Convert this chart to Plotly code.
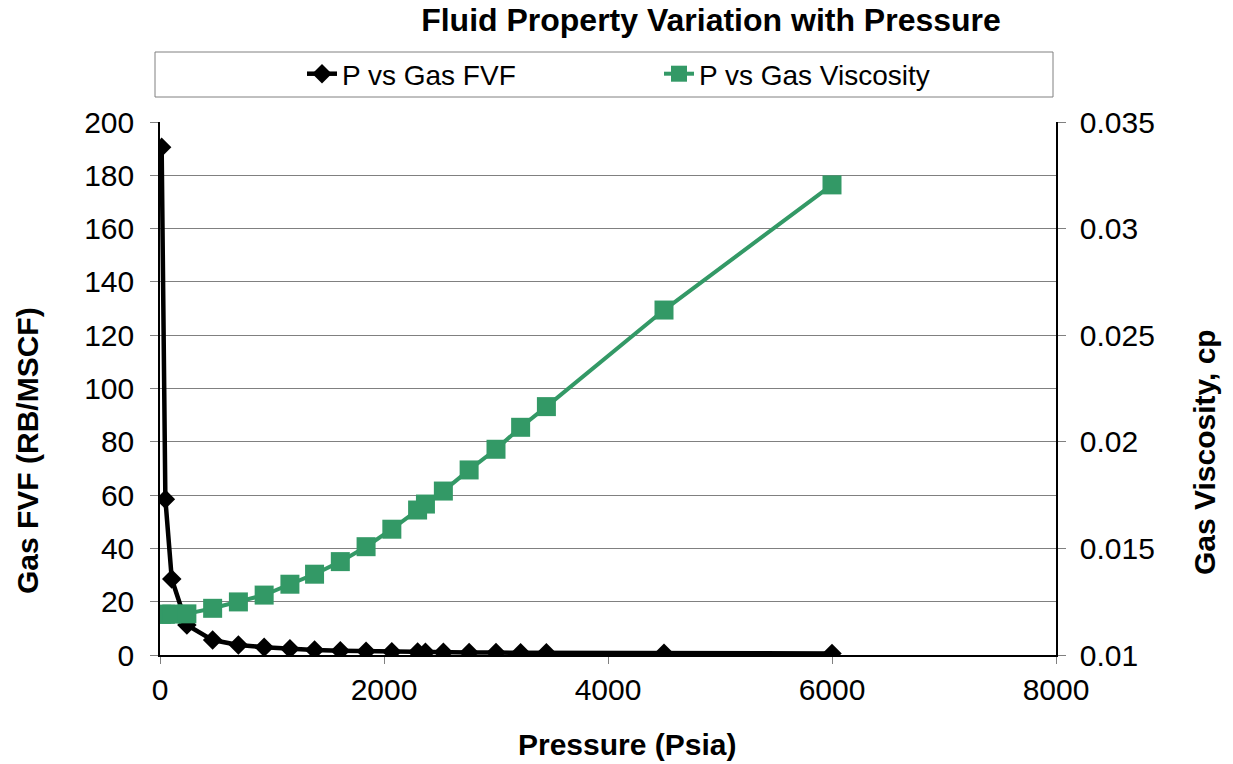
import plotly.graph_objects as go

# FVF series
fvf_pressure = [14.7, 48, 105, 240, 470, 700, 930, 1160, 1380, 1610, 1840, 2070, 2300, 2370, 2530, 2760, 3000, 3220, 3450, 4500, 6000]
gas_fvf = [190.5, 58.4, 28.5, 11.3, 5.6, 3.75, 2.9, 2.3, 1.9, 1.6, 1.4, 1.25, 1.1, 1.07, 1.0, 0.95, 0.9, 0.85, 0.8, 0.7, 0.6]

# Viscosity series
visc_pressure = fvf_pressure
gas_visc = [0.01191, 0.01191, 0.01192, 0.01193, 0.01219, 0.01249, 0.01281, 0.01332, 0.01379, 0.01438,
            0.01508, 0.01590, 0.01680, 0.01708, 0.01769, 0.01868, 0.01965, 0.02068, 0.02165, 0.02618, 0.03205]

title_text = "Fluid Property Variation with Pressure"
x_title = "Pressure (Psia)"
y1_title = "Gas FVF (RB/MSCF)"
y2_title = "Gas Viscosity, cp"

FONT = "Liberation Sans, Arial, sans-serif"
GREEN = "#339966"
GRID = "#808080"

fig = go.Figure()
fig.add_trace(go.Scatter(
    x=fvf_pressure, y=gas_fvf, name="P vs Gas FVF", mode="lines+markers",
    line=dict(color="black", width=4.5),
    marker=dict(symbol="diamond", size=15, color="black"),
    yaxis="y",
))
fig.add_trace(go.Scatter(
    x=visc_pressure, y=gas_visc, name="P vs Gas Viscosity", mode="lines+markers",
    line=dict(color=GREEN, width=4),
    marker=dict(symbol="square", size=19, color=GREEN),
    yaxis="y2",
))

L, R, T, B = 160, 177, 122, 109
W, H = 1233, 764
pw = W - L - R
ph = H - T - B


def px_x(x):
    return (x - L) / pw


def px_y(y):
    return (H - B - y) / ph


title_font = dict(family=FONT, size=30, color="black")

fig.update_layout(
    width=W, height=H,
    margin=dict(l=L, r=R, t=T, b=B),
    paper_bgcolor="white", plot_bgcolor="white",
    font=dict(family=FONT, size=30, color="black"),
    title=dict(text="<b>" + title_text + "</b>", x=711 / W, xanchor="center",
               yref="container", y=1 - 20 / H, yanchor="middle",
               font=dict(family=FONT, size=32, color="black")),
    showlegend=True,
    legend=dict(orientation="h", x=px_x(302), xanchor="left",
                yref="container", y=1 - 74 / H, yanchor="middle",
                bgcolor="rgba(0,0,0,0)", borderwidth=0,
                font=dict(family=FONT, size=28, color="black"),
                entrywidth=312, entrywidthmode="pixels", itemsizing="trace"),
    xaxis=dict(range=[0, 8000], dtick=2000, tick0=0, showgrid=False,
               showline=True, linecolor="black", linewidth=1.5,
               ticks="outside", ticklen=7, tickcolor=GRID,
               zeroline=False, automargin=False, ticklabelstandoff=0),
    yaxis=dict(range=[0, 200], dtick=20, tick0=0, showgrid=True, gridcolor=GRID, gridwidth=1,
               showline=True, linecolor="black", linewidth=1.5,
               ticks="outside", ticklen=8, tickcolor=GRID, zeroline=False, automargin=False,
               ticklabelstandoff=10),
    yaxis2=dict(range=[0.01, 0.035], dtick=0.005, tick0=0.01, overlaying="y", side="right",
                showgrid=False, showline=True, linecolor="black", linewidth=1.5,
                ticks="outside", ticklen=8, tickcolor=GRID, zeroline=False, automargin=False,
                ticklabelstandoff=8),
    shapes=[dict(type="rect", xref="paper", yref="paper",
                 x0=px_x(155), x1=px_x(1053),
                 y0=px_y(97), y1=px_y(52),
                 line=dict(color=GRID, width=1), fillcolor="rgba(0,0,0,0)", layer="below")],
    annotations=[
        dict(text="<b>" + x_title + "</b>", xref="paper", yref="paper",
             x=px_x(627), y=px_y(745), xanchor="center", yanchor="middle",
             showarrow=False, font=title_font),
        dict(text="<b>" + y1_title + "</b>", xref="paper", yref="paper",
             x=px_x(27), y=px_y(451), xanchor="center", yanchor="middle", textangle=-90,
             showarrow=False, font=title_font),
        dict(text="<b>" + y2_title + "</b>", xref="paper", yref="paper",
             x=px_x(1205), y=px_y(452), xanchor="center", yanchor="middle", textangle=-90,
             showarrow=False, font=title_font),
    ],
)

fig.write_html("out.html")
